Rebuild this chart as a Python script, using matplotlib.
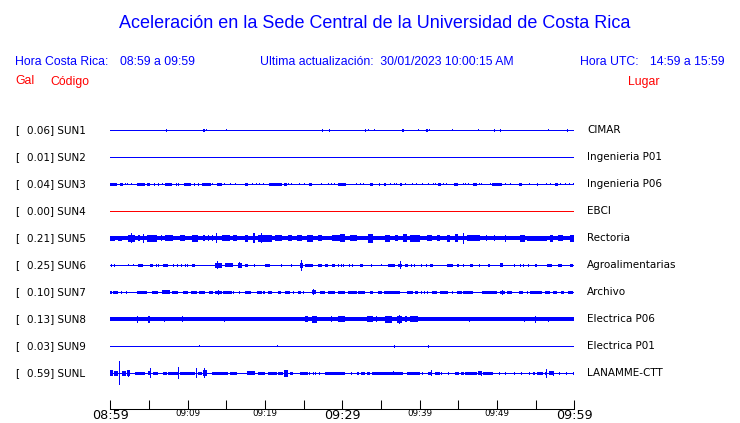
import matplotlib
matplotlib.use("Agg")
import matplotlib.pyplot as plt
import numpy as np

# ---------------- data ----------------
codes = ["SUN1", "SUN2", "SUN3", "SUN4", "SUN5", "SUN6", "SUN7", "SUN8", "SUN9", "SUNL"]
gal = [0.06, 0.01, 0.04, 0.00, 0.21, 0.25, 0.10, 0.13, 0.03, 0.59]
places = ["CIMAR", "Ingenieria P01", "Ingenieria P06", "EBCI", "Rectoria",
          "Agroalimentarias", "Archivo", "Electrica P06", "Electrica P01", "LANAMME-CTT"]
# background noise level of each trace (display amplitude units)
noise = [0.5, 0.5, 0.5, 0.5, 2.0, 0.5, 0.5, 2.0, 0.5, 0.5]

tick_minutes = [0, 5, 10, 15, 20, 25, 30, 35, 40, 45, 50, 55, 60]
tick_labels = ["08:59", "", "09:09", "", "09:19", "", "09:29", "", "09:39", "", "09:49", "", "09:59"]
big_labels = ["08:59", "09:29", "09:59"]

# bursts: (start minute, end minute, half amplitude)
SUN1 = [(7.25, 7.25, 1.5), (12.0, 12.25, 1.5), (12.4, 12.4, 1.2), (15.0, 15.0, 1.2), (27.4, 27.4, 1.3),
        (28.4, 28.4, 1.3), (32.98, 32.98, 1.3), (33.36, 33.36, 1.0), (34.14, 34.14, 1.0), (37.76, 38.02, 1.5),
        (39.83, 39.83, 0.8), (40.86, 41.04, 1.3), (41.34, 41.34, 1.0), (44.23, 44.23, 0.8), (47.59, 47.59, 1.0),
        (49.66, 49.66, 1.3), (50.43, 50.43, 1.3), (56.64, 56.64, 0.8), (59.1, 59.1, 1.3)]
SUN2 = []
SUN3 = [(0.0, 0.82, 1.5), (1.25, 1.68, 1.5), (1.98, 1.98, 1.2), (2.24, 2.24, 1.2), (2.76, 2.76, 1.0),
        (3.4, 4.48, 1.5), (4.7, 5.13, 1.5), (5.69, 5.69, 1.3), (6.2, 6.2, 1.3), (6.72, 6.72, 1.0),
        (7.07, 7.93, 1.5), (8.58, 8.58, 1.3), (8.88, 8.88, 1.3), (9.48, 10.43, 1.5), (10.86, 10.86, 1.3),
        (11.38, 11.38, 1.3), (11.9, 13.0, 1.5), (13.19, 13.19, 1.2), (13.8, 14.4, 1.5), (14.83, 14.83, 1.2),
        (15.6, 15.6, 1.2), (16.25, 16.25, 1.2), (17.41, 17.84, 1.5), (18.4, 18.4, 1.2), (18.92, 18.92, 1.2),
        (19.35, 19.35, 1.2), (19.78, 19.78, 1.2), (20.5, 22.16, 1.5), (22.5, 22.8, 1.3), (23.0, 23.0, 1.2),
        (23.45, 23.45, 1.2), (24.53, 24.53, 1.2), (25.1, 25.1, 1.2), (25.7, 26.1, 1.5), (27.33, 27.33, 1.0),
        (28.28, 28.28, 1.2), (28.6, 28.6, 1.2), (28.97, 28.97, 1.2), (29.4, 30.3, 1.5), (30.04, 30.48, 1.5),
        (31.86, 31.86, 0.8), (32.37, 32.37, 1.0), (32.8, 32.8, 1.0), (33.58, 34.0, 1.5), (34.79, 34.79, 1.3),
        (35.43, 35.6, 1.5), (36.25, 36.25, 1.0), (36.73, 36.73, 1.2), (37.03, 37.03, 1.2), (37.46, 37.67, 1.5),
        (38.15, 38.15, 1.2), (39.1, 39.1, 1.0), (39.61, 39.61, 1.0), (40.39, 40.39, 1.2), (41.12, 41.12, 1.0),
        (41.77, 41.77, 1.2), (42.07, 42.07, 1.2), (42.42, 42.72, 1.5), (43.06, 43.06, 1.2), (43.49, 43.49, 1.2),
        (44.4, 45.0, 1.5), (45.65, 45.65, 1.2), (45.99, 45.99, 1.2), (46.29, 46.29, 1.0), (46.94, 47.37, 1.5),
        (47.72, 47.72, 1.2), (48.02, 48.02, 1.2), (49.1, 49.1, 1.0), (49.4, 50.6, 1.3), (51.04, 51.04, 1.0),
        (51.77, 51.77, 1.0), (52.9, 53.2, 1.5), (54.18, 54.18, 1.0), (55.26, 55.26, 1.5), (56.42, 56.42, 1.0),
        (56.86, 56.86, 1.2), (57.5, 57.93, 1.5), (58.28, 58.28, 1.2), (58.92, 58.92, 1.2), (59.44, 59.44, 1.2),
        (59.87, 59.87, 1.2)]
SUN4 = []
SUN5 = [(0.0, 0.6, 2.5), (1.03, 1.47, 2.5), (2.33, 3.19, 3.5), (2.76, 2.76, 5), (3.62, 3.84, 3),
        (4.27, 4.27, 4.5), (4.7, 5.99, 3.5), (6.64, 6.64, 3), (7.07, 8.15, 3), (9.01, 9.66, 3),
        (10.52, 11.38, 3.5), (12.03, 12.24, 3), (12.67, 12.67, 3), (13.1, 13.32, 3), (13.75, 13.75, 5),
        (14.4, 15.47, 3), (15.91, 16.34, 3), (17.41, 17.84, 3.5), (18.49, 18.71, 5), (19.14, 20.86, 3.5),
        (19.57, 19.57, 5), (21.29, 22.16, 3), (23.02, 23.45, 3), (24.09, 24.74, 3), (25.39, 26.25, 3.5),
        (26.9, 27.33, 3), (28.62, 30.34, 3), (29.7, 30.35, 4), (30.99, 31.86, 3), (33.36, 34.01, 4.5),
        (35.52, 36.17, 3.5), (36.81, 37.24, 3), (37.89, 38.32, 4), (38.75, 40.04, 3.5), (40.91, 41.55, 3),
        (42.2, 42.63, 3), (43.49, 43.92, 3.5), (44.57, 45.0, 4), (45.65, 45.65, 5.5), (46.08, 47.8, 3),
        (48.67, 48.67, 3), (49.74, 49.74, 3), (51.04, 51.04, 3.5), (52.98, 53.62, 3.5), (53.84, 56.42, 2.5),
        (56.86, 57.29, 3.5), (57.93, 58.58, 3), (59.44, 60.0, 3.5)]
SUN6 = [(0.17, 0.17, 1.3), (0.6, 0.6, 1.3), (2.33, 2.33, 1.0), (2.97, 2.97, 1.0), (3.62, 4.27, 1.3),
        (5.13, 5.56, 1.3), (5.99, 5.99, 1.3), (6.21, 6.21, 1.3), (6.85, 7.5, 1.5), (8.15, 8.15, 1.3),
        (8.58, 8.79, 1.3), (9.22, 9.22, 1.3), (9.66, 9.66, 1.3), (10.0, 10.0, 1.3), (10.6, 10.95, 1.5),
        (13.53, 14.4, 2.5), (13.84, 13.84, 4), (14.83, 15.91, 2), (16.55, 16.98, 2.5), (16.77, 16.77, 3),
        (17.41, 17.84, 1.5), (18.71, 18.71, 1.3), (20.0, 20.65, 1.3), (22.16, 22.16, 1.3), (23.45, 23.45, 1.3),
        (24.53, 24.96, 2.5), (24.7, 24.7, 5.5), (25.17, 26.25, 1.5), (26.9, 27.33, 1.5), (27.76, 28.19, 1.3),
        (28.62, 29.05, 1.3), (29.48, 29.48, 1.3), (29.92, 29.92, 1.3), (30.13, 30.13, 1.3), (30.99, 30.99, 1.3),
        (31.34, 31.34, 1.3), (32.29, 32.72, 1.3), (33.79, 33.79, 1.3), (35.09, 35.09, 1.0), (35.95, 36.81, 1.5),
        (37.24, 37.67, 1.5), (37.5, 37.5, 4), (38.1, 38.54, 1.5), (38.97, 38.97, 1.3), (39.4, 39.4, 1.3),
        (40.26, 40.26, 1.3), (40.91, 40.91, 1.3), (41.34, 41.68, 1.5), (43.49, 44.36, 1.5), (44.87, 45.13, 1.5),
        (45.65, 45.65, 1.3), (46.51, 46.94, 1.7), (47.8, 47.8, 1.3), (48.88, 49.1, 1.5), (50.39, 50.73, 2),
        (52.33, 52.33, 1.3), (52.98, 52.98, 1.3), (53.41, 53.41, 1.3), (54.05, 54.05, 1.3), (54.92, 55.13, 1.5),
        (56.42, 57.07, 1.5), (57.93, 58.37, 1.5), (59.44, 59.87, 1.3)]
SUN7 = [(0.0, 0.17, 1.5), (0.39, 1.03, 1.5), (1.47, 1.47, 1.2), (2.11, 2.11, 1.2), (3.41, 4.7, 1.5),
        (5.34, 6.21, 1.5), (6.72, 7.72, 2), (8.02, 8.79, 1.5), (9.44, 10.09, 1.5), (10.43, 11.16, 1.5),
        (11.47, 12.24, 1.5), (12.8, 13.32, 1.5), (13.53, 14.4, 1.5), (13.97, 13.97, 2.5), (14.61, 15.69, 1.5),
        (15.91, 15.91, 1.2), (16.77, 16.77, 1.2), (17.41, 18.19, 1.5), (18.92, 19.57, 1.5), (19.78, 20.0, 1.5),
        (20.43, 20.86, 1.5), (21.64, 22.03, 1.5), (22.59, 23.23, 1.5), (23.66, 23.66, 1.2), (24.31, 24.61, 1.5),
        (24.96, 24.96, 1.2), (26.03, 26.55, 2), (26.29, 26.29, 3), (27.11, 27.76, 1.5), (28.1, 29.05, 1.5),
        (29.48, 30.35, 1.5), (30.78, 31.86, 1.5), (32.07, 32.93, 1.5), (33.58, 34.01, 1.5), (34.66, 35.09, 1.5),
        (35.39, 37.46, 1.5), (38.32, 39.18, 1.5), (39.4, 39.83, 1.5), (40.26, 40.26, 1.2), (40.69, 40.69, 1.2),
        (40.99, 40.99, 1.2), (41.55, 42.2, 1.5), (42.63, 43.71, 1.5), (44.27, 44.27, 1.2), (44.87, 45.43, 1.5),
        (45.65, 46.94, 1.5), (48.02, 49.96, 1.5), (50.39, 51.04, 1.5), (50.73, 50.73, 2.5), (51.25, 51.98, 1.5),
        (52.89, 53.32, 1.5), (53.92, 53.92, 1.2), (54.27, 55.78, 1.5), (56.21, 56.86, 1.5), (57.29, 57.72, 1.5),
        (58.23, 58.67, 1.5), (59.23, 59.87, 1.5)]
SUN8 = [(3.41, 3.62, 3.5), (4.83, 5.13, 3.5), (7.07, 7.07, 2.5), (9.31, 9.31, 3), (14.74, 14.74, 2.5),
        (25.17, 25.52, 3), (26.03, 26.68, 3.5), (28.62, 28.62, 3), (29.48, 30.35, 3), (33.23, 34.01, 3),
        (34.44, 34.44, 3), (35.52, 36.38, 3.5), (37.03, 37.67, 3.5), (37.46, 37.46, 4.5), (38.1, 38.32, 3),
        (38.75, 39.83, 3), (46.42, 46.42, 2.5), (53.62, 53.62, 2.5), (54.92, 54.92, 3.5), (56.64, 56.64, 2.5)]
SUN9 = [(11.5, 11.5, 1.0), (21.6, 21.6, 1.0), (36.73, 36.73, 1.5), (41.12, 41.12, 1.5)]
SUNL = [(0.0, 0.39, 3), (0.52, 0.95, 2.5), (1.25, 1.25, 12), (1.47, 1.98, 2.5), (2.11, 2.54, 3),
        (2.33, 2.33, 3.5), (3.19, 4.48, 1.5), (4.91, 5.13, 2), (5.22, 5.22, 5), (5.56, 6.21, 1.5),
        (6.85, 7.28, 1.5), (7.5, 8.71, 1.5), (8.79, 8.79, 6), (9.01, 10.95, 1.5), (11.16, 11.16, 5),
        (11.38, 11.81, 1.5), (12.03, 12.46, 3), (12.24, 12.24, 5), (13.1, 15.26, 1.5), (15.47, 16.34, 1.5),
        (17.63, 18.71, 2), (19.14, 20.0, 1.5), (20.43, 21.51, 1.5), (21.72, 22.37, 1.5), (22.46, 22.93, 3.5),
        (23.23, 23.66, 1.5), (24.53, 25.6, 1.5), (25.82, 25.82, 1.2), (26.25, 26.25, 1.2), (26.47, 26.47, 1.2),
        (27.11, 27.11, 1.2), (27.76, 30.34, 1.5), (31.21, 31.21, 1.2), (31.86, 32.2, 1.5), (32.37, 32.93, 1.5),
        (33.15, 33.58, 1.5), (33.88, 37.89, 1.5), (36.6, 36.6, 2), (38.32, 40.04, 1.5), (40.39, 40.39, 1.2),
        (41.04, 41.55, 1.5), (41.55, 41.55, 3), (41.98, 42.63, 1.5), (42.85, 42.85, 1.2), (43.71, 43.71, 1.2),
        (44.57, 45.13, 1.5), (45.3, 45.73, 1.5), (45.86, 47.37, 1.5), (47.59, 48.02, 2), (48.02, 48.02, 2.5),
        (48.23, 49.53, 1.5), (50.39, 50.39, 1.2), (51.04, 51.04, 1.2), (52.33, 52.33, 1.2), (53.19, 53.19, 1.2),
        (54.18, 54.18, 1.2), (54.7, 54.92, 1.5), (55.13, 55.91, 1.5), (56.21, 56.42, 1.5), (56.42, 56.42, 4.5),
        (56.77, 57.37, 2), (57.37, 57.37, 2.5), (58.15, 58.15, 1.2), (59.01, 59.01, 1.2), (59.87, 59.87, 1.2)]
bursts = [SUN1, SUN2, SUN3, SUN4, SUN5, SUN6, SUN7, SUN8, SUN9, SUNL]
trace_colors = ["#0000ff", "#0000ff", "#0000ff", "#ff0000", "#0000ff",
                "#0000ff", "#0000ff", "#0000ff", "#0000ff", "#0000ff"]

# ---------------- figure ----------------
W, H = 740, 423
fig = plt.figure(figsize=(W / 100, H / 100), dpi=100)
fig.patch.set_facecolor("white")

x_left, x_right = 110.3, 574.3
row0, spacing, axis_y = 130.3, 27.0, 409.0
ytop_data = -1.0
ybot_data = (axis_y - row0) / spacing
top_px = row0 + ytop_data * spacing
ax = fig.add_axes([x_left / W, (H - axis_y) / H, (x_right - x_left) / W, (axis_y - top_px) / H])
ax.set_xlim(0, 60)
ax.set_ylim(ybot_data, ytop_data)
ax.patch.set_alpha(0)
px = 1.0 / spacing  # one pixel in data units (vertical)
min_w = 60.0 / (x_right - x_left)  # one pixel in minutes

for i, (b, c, nz) in enumerate(zip(bursts, trace_colors, noise)):
    base = max(nz, 0.6)
    ax.bar(0, 2 * base * px, width=60, bottom=i - base * px, align="edge",
           color=c, linewidth=0, antialiased=False)
    if b:
        arr = np.array(b, dtype=float)
        t0, t1, a = arr[:, 0], arr[:, 1], arr[:, 2]
        w = np.maximum(t1 - t0, min_w)
        xc = (t0 + t1) / 2 - w / 2
        ax.bar(xc, 2 * a * px, width=w, bottom=i - a * px, align="edge",
               color=c, linewidth=0, antialiased=False)

for s in ["top", "left", "right"]:
    ax.spines[s].set_visible(False)
ax.spines["bottom"].set_linewidth(0.75)
ax.set_yticks([])
ax.set_xticks(tick_minutes)
ax.set_xticklabels(tick_labels)
ax.tick_params(axis="x", direction="in", length=6.5, width=0.75, pad=0.3, color="black")
for lab in ax.get_xticklabels():
    if lab.get_text() in big_labels:
        lab.set_fontsize(9.2)
    else:
        lab.set_fontsize(6.3)
    lab.set_family("DejaVu Sans")

# station labels
for i, (g, code, place) in enumerate(zip(gal, codes, places)):
    yy = 1 - (row0 + i * spacing) / H
    fig.text(15 / W, yy, "[", fontsize=7.5, family="DejaVu Sans", va="center", ha="left")
    fig.text(27 / W, yy, f"{g:.2f}] {code}", fontsize=7.5, family="DejaVu Sans", va="center", ha="left")
    fig.text(587 / W, yy, place, fontsize=7.5, family="DejaVu Sans", va="center", ha="left")

# header
blue, red = "#0000ff", "#ff0000"
hf = "Liberation Sans"
fig.text(375 / W, 1 - 27.5 / H, "Aceleración en la Sede Central de la Universidad de Costa Rica",
         fontsize=13.0, family=hf, color=blue, ha="center", va="baseline")
hy = 1 - 64.5 / H
fig.text(15 / W, hy, "Hora Costa Rica:", fontsize=8.8, family=hf, color=blue, va="baseline")
fig.text(120 / W, hy, "08:59 a 09:59", fontsize=8.8, family=hf, color=blue, va="baseline")
fig.text(260 / W, hy, "Ultima actualización:  30/01/2023 10:00:15 AM", fontsize=8.8, family=hf,
         color=blue, va="baseline")
fig.text(580 / W, hy, "Hora UTC:", fontsize=8.8, family=hf, color=blue, va="baseline")
fig.text(725 / W, hy, "14:59 a 15:59", fontsize=8.8, family=hf, color=blue, va="baseline", ha="right")
ry = 1 - 84.5 / H
fig.text(15 / W, ry, "Gal", fontsize=8.8, family=hf, color=red, va="baseline")
fig.text(50 / W, ry, "Código", fontsize=8.8, family=hf, color=red, va="baseline")
fig.text(628 / W, ry, "Lugar", fontsize=8.8, family=hf, color=red, va="baseline")

fig.savefig("out.png", dpi=100, facecolor="white")
